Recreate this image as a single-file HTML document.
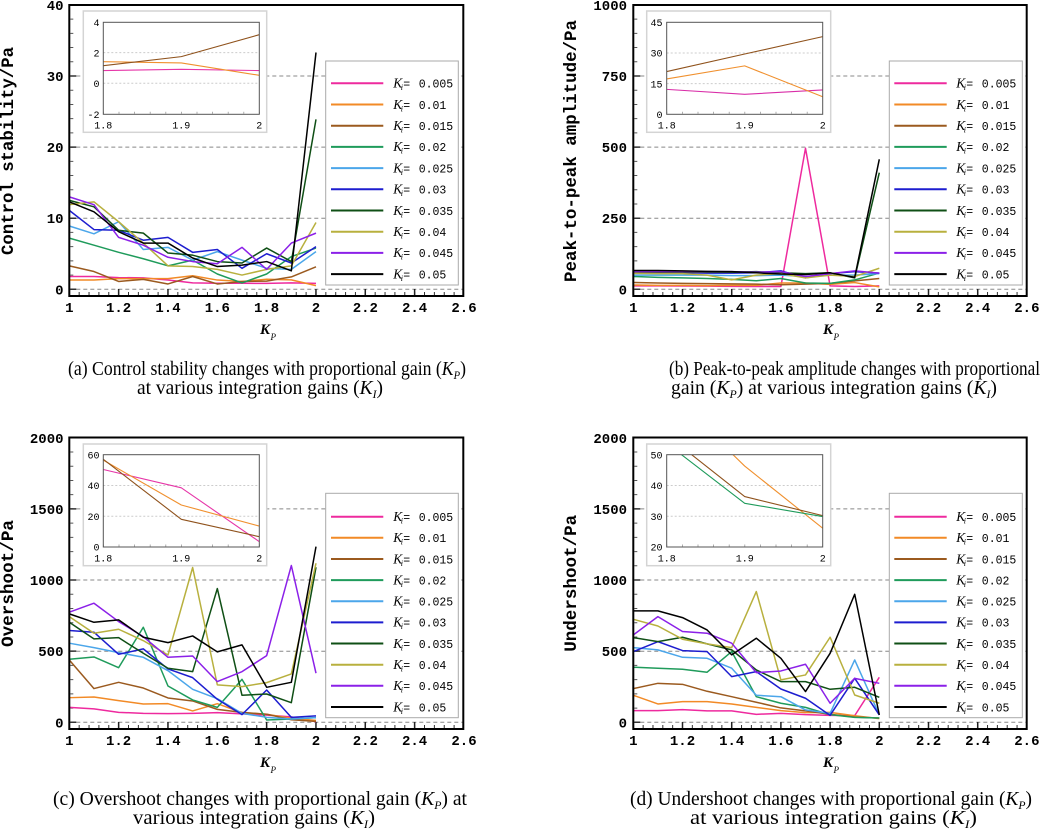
<!DOCTYPE html>
<html><head><meta charset="utf-8">
<style>
html,body{margin:0;padding:0;background:#fff;}
svg{display:block;}
.tk{font-family:"Liberation Mono",monospace;font-size:14px;font-weight:bold;fill:#000;}
.ti{font-family:"Liberation Mono",monospace;font-size:17.3px;font-weight:bold;fill:#000;}
.it{font-family:"Liberation Mono",monospace;font-size:10px;fill:#000;}
.k{font-family:"Liberation Serif",serif;font-style:italic;font-size:13.5px;}
.s{font-family:"Liberation Serif",serif;font-style:italic;font-size:8px;}
.m{font-family:"Liberation Mono",monospace;font-size:11.5px;}
.kp{font-family:"Liberation Serif",serif;font-style:italic;font-weight:bold;font-size:15px;}
.kps{font-family:"Liberation Serif",serif;font-style:italic;font-size:9px;}
.cap{font-family:"Liberation Serif",serif;font-size:20px;fill:#000;}
.ser polyline{fill:none;stroke-width:1.5;stroke-linejoin:round;vector-effect:non-scaling-stroke;}
.ins polyline{fill:none;stroke-width:1.1;stroke-linejoin:round;vector-effect:non-scaling-stroke;}
.grid{stroke:#888;stroke-width:1;stroke-dasharray:4 3;}
.ig{stroke:#ccc;stroke-width:1;stroke-dasharray:2 2;}
</style></head>
<body>
<svg width="1041" height="834" viewBox="0 0 1041 834" xmlns="http://www.w3.org/2000/svg">
<defs>
<clipPath id="cia"><rect x="103.3" y="22.3" width="156" height="92"/></clipPath>
<clipPath id="cib"><rect x="666.7" y="22.3" width="156" height="92"/></clipPath>
<clipPath id="cic"><rect x="103.3" y="454.7" width="156" height="92.3"/></clipPath>
<clipPath id="cid"><rect x="666.7" y="454.7" width="156" height="92.3"/></clipPath>
</defs>

<!-- ================= PANEL A ================= -->
<g>
<line class="grid" x1="69.3" x2="463.3" y1="289.3" y2="289.3"/>
<line class="grid" x1="69.3" x2="463.3" y1="218.2" y2="218.2"/>
<line class="grid" x1="69.3" x2="463.3" y1="147.1" y2="147.1"/>
<line class="grid" x1="69.3" x2="463.3" y1="76" y2="76"/>
<line x1="68.8" y1="293.5" x2="464" y2="293.5" stroke="#333" stroke-width="3" stroke-dasharray="1 8.867"/>
<line x1="68.55" y1="292" x2="464" y2="292" stroke="#222" stroke-width="6" stroke-dasharray="1.5 47.83"/>
<line x1="71.8" y1="289.8" x2="71.8" y2="5" stroke="#555" stroke-width="3" stroke-dasharray="1 13.22"/>
<line x1="73.3" y1="290.05" x2="73.3" y2="5" stroke="#333" stroke-width="6" stroke-dasharray="1.5 69.61"/>
<g class="ser" transform="translate(69.3 289.3) scale(24.67 -7.111)">
<polyline stroke="#ee2a9e" points="0,1.8 1,1.8 2,1.65 3,1.6 4,1.3 5,0.9 6,0.85 7,0.85 8,0.83 9,0.91 10,0.83"/>
<polyline stroke="#f28a26" points="0,1.3 1,1.3 2,1.5 3,1.5 4,1.5 5,1.9 6,1.3 7,1.1 8,1.41 9,1.33 10,0.52"/>
<polyline stroke="#9b5a1f" points="0,3.3 1,2.5 2,1.1 3,1.4 4,0.75 5,1.8 6,0.75 7,1.1 8,1.15 9,1.74 10,3.17"/>
<polyline stroke="#1f9b5b" points="0,7.2 1,6.2 2,5.2 3,4.3 4,3.3 5,4.1 6,2.15 7,0.9 8,2.15 9,4.6 10,5.8"/>
<polyline stroke="#4ba6ea" points="0,8.9 1,7.8 2,9.5 3,5.6 4,5.9 5,4.1 6,5.3 7,4.1 8,2.95 9,2.8 10,5.3"/>
<polyline stroke="#1d1dcf" points="0,11.1 1,8.4 2,8.3 3,6.9 4,7.3 5,5.2 6,5.6 7,2.95 8,5.0 9,3.7 10,6.0"/>
<polyline stroke="#0f4f15" points="0,12.5 1,11.6 2,8.3 3,7.9 4,5.1 5,4.8 6,3.9 7,3.7 8,5.8 9,3.9 10,23.9"/>
<polyline stroke="#b8b03e" points="0,11.9 1,12.3 2,9.5 3,6.5 4,3.3 5,3.2 6,2.8 7,2.0 8,2.8 9,3.3 10,9.4"/>
<polyline stroke="#8b20e8" points="0,13.0 1,11.9 2,7.3 3,6.2 4,4.5 5,3.9 6,3.6 7,5.9 8,2.8 9,6.5 10,7.9"/>
<polyline stroke="#000" points="0,12.3 1,10.9 2,8.1 3,6.5 4,6.5 5,4.4 6,3.2 7,3.4 8,3.9 9,2.6 10,33.3"/>
</g>
<rect x="69.3" y="5" width="394" height="291" fill="none" stroke="#000" stroke-width="2"/>
<g class="tk" text-anchor="end">
<text x="63.5" y="294.3">0</text><text x="63.5" y="223.2">10</text><text x="63.5" y="152.1">20</text><text x="63.5" y="81">30</text><text x="63.5" y="10">40</text>
</g>
<g class="tk" text-anchor="middle">
<text x="69.3" y="312">1</text><text x="118.6" y="312">1.2</text><text x="168" y="312">1.4</text><text x="217.3" y="312">1.6</text><text x="266.6" y="312">1.8</text><text x="316" y="312">2</text><text x="365.3" y="312">2.2</text><text x="414.6" y="312">2.4</text><text x="464" y="312">2.6</text>
</g>
<text class="ti" transform="translate(13 151) rotate(-90)" text-anchor="middle" textLength="208" lengthAdjust="spacingAndGlyphs">Control stability/Pa</text>
<text x="260" y="334" class="kp">K</text><text x="270.5" y="340" class="kps">P</text>
<rect x="83.3" y="11" width="183.4" height="121.3" fill="#fff" stroke="#d4d4d4" stroke-width="1.5"/>
<line class="ig" x1="103.3" x2="259.3" y1="52.6" y2="52.6"/>
<line class="ig" x1="103.3" x2="259.3" y1="83.3" y2="83.3"/>
<line x1="103" y1="112.8" x2="260" y2="112.8" stroke="#999" stroke-width="2" stroke-dasharray="0.8 14.8"/>
<g clip-path="url(#cia)"><g class="ins" transform="translate(103.3 83.3) scale(78 -15.33)">
<polyline stroke="#e636a8" points="0,0.83 1,0.91 2,0.83"/>
<polyline stroke="#f0902e" points="0,1.41 1,1.33 2,0.52"/>
<polyline stroke="#8f521c" points="0,1.15 1,1.74 2,3.17"/>
</g></g>
<rect x="103.3" y="22.3" width="156" height="92" fill="none" stroke="#555" stroke-width="1"/>
<g class="it" text-anchor="end">
<text x="99.5" y="26">4</text><text x="99.5" y="56.3">2</text><text x="99.5" y="87">0</text><text x="99.5" y="118">-2</text>
</g>
<g class="it" text-anchor="middle">
<text x="103.3" y="128.5">1.8</text><text x="181.3" y="128.5">1.9</text><text x="259.3" y="128.5">2</text>
</g>
<g transform="translate(325.7 61)">
<rect x="0" y="0" width="132.6" height="224" fill="#fff" stroke="#aaa" stroke-width="1"/>
<line x1="5.3" x2="57.6" y1="22.3" y2="22.3" stroke="#ee2a9e" stroke-width="2"/>
<line x1="5.3" x2="57.6" y1="43.5" y2="43.5" stroke="#f28a26" stroke-width="2"/>
<line x1="5.3" x2="57.6" y1="64.7" y2="64.7" stroke="#9b5a1f" stroke-width="2"/>
<line x1="5.3" x2="57.6" y1="85.9" y2="85.9" stroke="#1f9b5b" stroke-width="2"/>
<line x1="5.3" x2="57.6" y1="107.1" y2="107.1" stroke="#4ba6ea" stroke-width="2"/>
<line x1="5.3" x2="57.6" y1="128.3" y2="128.3" stroke="#1d1dcf" stroke-width="2"/>
<line x1="5.3" x2="57.6" y1="149.5" y2="149.5" stroke="#0f4f15" stroke-width="2"/>
<line x1="5.3" x2="57.6" y1="170.7" y2="170.7" stroke="#b8b03e" stroke-width="2"/>
<line x1="5.3" x2="57.6" y1="191.9" y2="191.9" stroke="#8b20e8" stroke-width="2"/>
<line x1="5.3" x2="57.6" y1="213.1" y2="213.1" stroke="#000" stroke-width="2"/>
<text y="26.6"><tspan class="k" x="67.5">K</tspan><tspan class="s" x="75" dy="2.5">i</tspan><tspan class="m" x="77.5" dy="-2.5">=</tspan><tspan class="m" x="93">0.005</tspan></text>
<text y="47.8"><tspan class="k" x="67.5">K</tspan><tspan class="s" x="75" dy="2.5">i</tspan><tspan class="m" x="77.5" dy="-2.5">=</tspan><tspan class="m" x="93">0.01</tspan></text>
<text y="69"><tspan class="k" x="67.5">K</tspan><tspan class="s" x="75" dy="2.5">i</tspan><tspan class="m" x="77.5" dy="-2.5">=</tspan><tspan class="m" x="93">0.015</tspan></text>
<text y="90.2"><tspan class="k" x="67.5">K</tspan><tspan class="s" x="75" dy="2.5">i</tspan><tspan class="m" x="77.5" dy="-2.5">=</tspan><tspan class="m" x="93">0.02</tspan></text>
<text y="111.4"><tspan class="k" x="67.5">K</tspan><tspan class="s" x="75" dy="2.5">i</tspan><tspan class="m" x="77.5" dy="-2.5">=</tspan><tspan class="m" x="93">0.025</tspan></text>
<text y="132.6"><tspan class="k" x="67.5">K</tspan><tspan class="s" x="75" dy="2.5">i</tspan><tspan class="m" x="77.5" dy="-2.5">=</tspan><tspan class="m" x="93">0.03</tspan></text>
<text y="153.8"><tspan class="k" x="67.5">K</tspan><tspan class="s" x="75" dy="2.5">i</tspan><tspan class="m" x="77.5" dy="-2.5">=</tspan><tspan class="m" x="93">0.035</tspan></text>
<text y="175"><tspan class="k" x="67.5">K</tspan><tspan class="s" x="75" dy="2.5">i</tspan><tspan class="m" x="77.5" dy="-2.5">=</tspan><tspan class="m" x="93">0.04</tspan></text>
<text y="196.2"><tspan class="k" x="67.5">K</tspan><tspan class="s" x="75" dy="2.5">i</tspan><tspan class="m" x="77.5" dy="-2.5">=</tspan><tspan class="m" x="93">0.045</tspan></text>
<text y="217.4"><tspan class="k" x="67.5">K</tspan><tspan class="s" x="75" dy="2.5">i</tspan><tspan class="m" x="77.5" dy="-2.5">=</tspan><tspan class="m" x="93">0.05</tspan></text>
</g>
</g>

<!-- ================= PANEL B ================= -->
<g>
<line class="grid" x1="633.3" x2="1026.7" y1="289.3" y2="289.3"/>
<line class="grid" x1="633.3" x2="1026.7" y1="218.2" y2="218.2"/>
<line class="grid" x1="633.3" x2="1026.7" y1="147.1" y2="147.1"/>
<line class="grid" x1="633.3" x2="1026.7" y1="76" y2="76"/>
<line x1="632.8" y1="293.5" x2="1027" y2="293.5" stroke="#333" stroke-width="3" stroke-dasharray="1 8.84"/>
<line x1="632.55" y1="292" x2="1027" y2="292" stroke="#222" stroke-width="6" stroke-dasharray="1.5 47.7"/>
<line x1="635.8" y1="289.8" x2="635.8" y2="5" stroke="#555" stroke-width="3" stroke-dasharray="1 13.22"/>
<line x1="637.3" y1="290.05" x2="637.3" y2="5" stroke="#333" stroke-width="6" stroke-dasharray="1.5 69.6"/>
<g class="ser" transform="translate(633.3 289.3) scale(24.6 -0.2844)">
<polyline stroke="#ee2a9e" points="0,12 1,12 2,11.5 3,11 4,10.5 5,10 6,10 7,496 8,12.2 9,9.8 10,11.9"/>
<polyline stroke="#f28a26" points="0,15 1,14 2,14 3,13 4,14 5,14 6,22 7,22 8,17.3 9,23.7 10,8.6"/>
<polyline stroke="#9b5a1f" points="0,24 1,22 2,21 3,20 4,19 5,18 6,16 7,18 8,20.9 9,29.5 10,38"/>
<polyline stroke="#1f9b5b" points="0,45 1,42 2,40 3,38 4,35 5,30 6,38 7,22 8,21 9,33 10,57"/>
<polyline stroke="#4ba6ea" points="0,50 1,50 2,50 3,50 4,48 5,48 6,50 7,45 8,50 9,50 10,55"/>
<polyline stroke="#1d1dcf" points="0,58 1,58 2,58 3,57 4,57 5,58 6,65 7,40 8,55 9,62 10,57"/>
<polyline stroke="#0f4f15" points="0,58 1,60 2,60 3,60 4,60 5,62 6,58 7,55 8,58 9,40 10,410"/>
<polyline stroke="#b8b03e" points="0,56 1,55 2,55 3,50 4,33 5,50 6,55 7,40 8,50 9,45 10,74"/>
<polyline stroke="#8b20e8" points="0,62 1,62 2,62 3,62 4,62 5,60 6,62 7,45 8,55 9,65 10,57"/>
<polyline stroke="#000" points="0,66 1,66 2,65 3,63 4,62 5,58 6,54 7,52 8,58 9,42 10,457"/>
</g>
<rect x="633.3" y="5" width="393.4" height="291" fill="none" stroke="#000" stroke-width="2"/>
<g class="tk" text-anchor="end">
<text x="627" y="294.3">0</text><text x="627" y="223.2">250</text><text x="627" y="152.1">500</text><text x="627" y="81">750</text><text x="627" y="10">1000</text>
</g>
<g class="tk" text-anchor="middle">
<text x="633.3" y="312">1</text><text x="682.5" y="312">1.2</text><text x="731.7" y="312">1.4</text><text x="780.9" y="312">1.6</text><text x="830.1" y="312">1.8</text><text x="879.3" y="312">2</text><text x="928.5" y="312">2.2</text><text x="977.7" y="312">2.4</text><text x="1026.9" y="312">2.6</text>
</g>
<text class="ti" transform="translate(576 151) rotate(-90)" text-anchor="middle" textLength="262" lengthAdjust="spacingAndGlyphs">Peak-to-peak amplitude/Pa</text>
<text x="823" y="334" class="kp">K</text><text x="833.5" y="340" class="kps">P</text>
<rect x="646.7" y="11" width="184" height="121.3" fill="#fff" stroke="#d4d4d4" stroke-width="1.5"/>
<line class="ig" x1="666.7" x2="822.7" y1="53" y2="53"/>
<line class="ig" x1="666.7" x2="822.7" y1="83.6" y2="83.6"/>
<line x1="666.4" y1="112.8" x2="823" y2="112.8" stroke="#999" stroke-width="2" stroke-dasharray="0.8 14.8"/>
<g clip-path="url(#cib)"><g class="ins" transform="translate(666.7 114.3) scale(78 -2.044)">
<polyline stroke="#d92ea8" points="0,12.2 1,9.8 2,11.9"/>
<polyline stroke="#f0902e" points="0,17.3 1,23.7 2,8.6"/>
<polyline stroke="#8f521c" points="0,20.9 1,29.5 2,38"/>
</g></g>
<rect x="666.7" y="22.3" width="156" height="92" fill="none" stroke="#555" stroke-width="1"/>
<g class="it" text-anchor="end">
<text x="662.5" y="26">45</text><text x="662.5" y="56.7">30</text><text x="662.5" y="87.3">15</text><text x="662.5" y="118">0</text>
</g>
<g class="it" text-anchor="middle">
<text x="666.7" y="128.5">1.8</text><text x="744.7" y="128.5">1.9</text><text x="822.7" y="128.5">2</text>
</g>
<g transform="translate(889.3 61)">
<rect x="0" y="0" width="133" height="224" fill="#fff" stroke="#aaa" stroke-width="1"/>
<line x1="5" x2="57.4" y1="22.3" y2="22.3" stroke="#ee2a9e" stroke-width="2"/>
<line x1="5" x2="57.4" y1="43.5" y2="43.5" stroke="#f28a26" stroke-width="2"/>
<line x1="5" x2="57.4" y1="64.7" y2="64.7" stroke="#9b5a1f" stroke-width="2"/>
<line x1="5" x2="57.4" y1="85.9" y2="85.9" stroke="#1f9b5b" stroke-width="2"/>
<line x1="5" x2="57.4" y1="107.1" y2="107.1" stroke="#4ba6ea" stroke-width="2"/>
<line x1="5" x2="57.4" y1="128.3" y2="128.3" stroke="#1d1dcf" stroke-width="2"/>
<line x1="5" x2="57.4" y1="149.5" y2="149.5" stroke="#0f4f15" stroke-width="2"/>
<line x1="5" x2="57.4" y1="170.7" y2="170.7" stroke="#b8b03e" stroke-width="2"/>
<line x1="5" x2="57.4" y1="191.9" y2="191.9" stroke="#8b20e8" stroke-width="2"/>
<line x1="5" x2="57.4" y1="213.1" y2="213.1" stroke="#000" stroke-width="2"/>
<text y="26.6"><tspan class="k" x="67">K</tspan><tspan class="s" x="74.5" dy="2.5">i</tspan><tspan class="m" x="77" dy="-2.5">=</tspan><tspan class="m" x="92.5">0.005</tspan></text>
<text y="47.8"><tspan class="k" x="67">K</tspan><tspan class="s" x="74.5" dy="2.5">i</tspan><tspan class="m" x="77" dy="-2.5">=</tspan><tspan class="m" x="92.5">0.01</tspan></text>
<text y="69"><tspan class="k" x="67">K</tspan><tspan class="s" x="74.5" dy="2.5">i</tspan><tspan class="m" x="77" dy="-2.5">=</tspan><tspan class="m" x="92.5">0.015</tspan></text>
<text y="90.2"><tspan class="k" x="67">K</tspan><tspan class="s" x="74.5" dy="2.5">i</tspan><tspan class="m" x="77" dy="-2.5">=</tspan><tspan class="m" x="92.5">0.02</tspan></text>
<text y="111.4"><tspan class="k" x="67">K</tspan><tspan class="s" x="74.5" dy="2.5">i</tspan><tspan class="m" x="77" dy="-2.5">=</tspan><tspan class="m" x="92.5">0.025</tspan></text>
<text y="132.6"><tspan class="k" x="67">K</tspan><tspan class="s" x="74.5" dy="2.5">i</tspan><tspan class="m" x="77" dy="-2.5">=</tspan><tspan class="m" x="92.5">0.03</tspan></text>
<text y="153.8"><tspan class="k" x="67">K</tspan><tspan class="s" x="74.5" dy="2.5">i</tspan><tspan class="m" x="77" dy="-2.5">=</tspan><tspan class="m" x="92.5">0.035</tspan></text>
<text y="175"><tspan class="k" x="67">K</tspan><tspan class="s" x="74.5" dy="2.5">i</tspan><tspan class="m" x="77" dy="-2.5">=</tspan><tspan class="m" x="92.5">0.04</tspan></text>
<text y="196.2"><tspan class="k" x="67">K</tspan><tspan class="s" x="74.5" dy="2.5">i</tspan><tspan class="m" x="77" dy="-2.5">=</tspan><tspan class="m" x="92.5">0.045</tspan></text>
<text y="217.4"><tspan class="k" x="67">K</tspan><tspan class="s" x="74.5" dy="2.5">i</tspan><tspan class="m" x="77" dy="-2.5">=</tspan><tspan class="m" x="92.5">0.05</tspan></text>
</g>
</g>

<!-- ================= PANEL C ================= -->
<g>
<line class="grid" x1="69.3" x2="463.3" y1="722.3" y2="722.3"/>
<line class="grid" x1="69.3" x2="463.3" y1="651.2" y2="651.2"/>
<line class="grid" x1="69.3" x2="463.3" y1="580" y2="580"/>
<line class="grid" x1="69.3" x2="463.3" y1="508.9" y2="508.9"/>
<line x1="68.8" y1="726.5" x2="464" y2="726.5" stroke="#333" stroke-width="3" stroke-dasharray="1 8.867"/>
<line x1="68.55" y1="725" x2="464" y2="725" stroke="#222" stroke-width="6" stroke-dasharray="1.5 47.83"/>
<line x1="71.8" y1="722.8" x2="71.8" y2="437.5" stroke="#555" stroke-width="3" stroke-dasharray="1 13.227"/>
<line x1="73.3" y1="723.05" x2="73.3" y2="437.5" stroke="#333" stroke-width="6" stroke-dasharray="1.5 69.63"/>
<g class="ser" transform="translate(69.3 722.3) scale(24.67 -0.14227)">
<polyline stroke="#ee2a9e" points="0,105 1,94 2,70 3,63 4,61 5,63 6,68 7,59 8,50.4 9,38.5 10,3.5"/>
<polyline stroke="#f28a26" points="0,173 1,178 2,152 3,129 4,131 5,80 6,131 7,68 8,56.5 9,27.3 10,13.6"/>
<polyline stroke="#9b5a1f" points="0,438 1,237 2,281 3,241 4,171 5,150 6,91 7,70 8,57 9,18 10,6.7"/>
<polyline stroke="#1f9b5b" points="0,443 1,459 2,384 3,668 4,255 5,157 6,105 7,302 8,16 9,23 10,33"/>
<polyline stroke="#4ba6ea" points="0,556 1,525 2,490 3,457 4,363 5,232 6,166 7,63 8,35 9,23 10,33"/>
<polyline stroke="#1d1dcf" points="0,645 1,633 2,478 3,516 4,375 5,314 6,162 7,54 8,227 9,35 10,45"/>
<polyline stroke="#0f4f15" points="0,703 1,586 2,595 3,485 4,380 5,356 6,940 7,190 8,199 9,138 10,1090"/>
<polyline stroke="#b8b03e" points="0,743 1,626 2,654 3,574 4,473 5,1088 6,263 7,251 8,279 9,340 10,1118"/>
<polyline stroke="#8b20e8" points="0,774 1,837 2,708 3,602 4,457 5,466 6,286 7,356 8,469 9,1102 10,345"/>
<polyline stroke="#000" points="0,762 1,703 2,720 3,598 4,560 5,607 6,495 7,544 8,246 9,281 10,1235"/>
</g>
<rect x="69.3" y="437.5" width="394" height="291.5" fill="none" stroke="#000" stroke-width="2"/>
<g class="tk" text-anchor="end">
<text x="63.5" y="727.3">0</text><text x="63.5" y="656.2">500</text><text x="63.5" y="585">1000</text><text x="63.5" y="513.9">1500</text><text x="63.5" y="442.8">2000</text>
</g>
<g class="tk" text-anchor="middle">
<text x="69.3" y="745">1</text><text x="118.6" y="745">1.2</text><text x="168" y="745">1.4</text><text x="217.3" y="745">1.6</text><text x="266.6" y="745">1.8</text><text x="316" y="745">2</text><text x="365.3" y="745">2.2</text><text x="414.6" y="745">2.4</text><text x="464" y="745">2.6</text>
</g>
<text class="ti" transform="translate(13 583.5) rotate(-90)" text-anchor="middle" textLength="127" lengthAdjust="spacingAndGlyphs">Overshoot/Pa</text>
<text x="260" y="767" class="kp">K</text><text x="270.5" y="773" class="kps">P</text>
<rect x="83.3" y="444" width="183.4" height="121.7" fill="#fff" stroke="#d4d4d4" stroke-width="1.5"/>
<line class="ig" x1="103.3" x2="259.3" y1="485.5" y2="485.5"/>
<line class="ig" x1="103.3" x2="259.3" y1="516.2" y2="516.2"/>
<line x1="103" y1="545.5" x2="260" y2="545.5" stroke="#999" stroke-width="2" stroke-dasharray="0.8 14.8"/>
<g clip-path="url(#cic)"><g class="ins" transform="translate(103.3 547) scale(78 -1.538)">
<polyline stroke="#e636a8" points="0,50.4 1,38.5 2,3.5"/>
<polyline stroke="#f0902e" points="0,56.5 1,27.3 2,13.6"/>
<polyline stroke="#8f521c" points="0,57 1,18 2,6.7"/>
</g></g>
<rect x="103.3" y="454.7" width="156" height="92.3" fill="none" stroke="#555" stroke-width="1"/>
<g class="it" text-anchor="end">
<text x="99.5" y="458.4">60</text><text x="99.5" y="489.2">40</text><text x="99.5" y="519.9">20</text><text x="99.5" y="550.7">0</text>
</g>
<g class="it" text-anchor="middle">
<text x="103.3" y="561.5">1.8</text><text x="181.3" y="561.5">1.9</text><text x="259.3" y="561.5">2</text>
</g>
<g transform="translate(325.7 493.3)">
<rect x="0" y="0" width="132.6" height="224.4" fill="#fff" stroke="#aaa" stroke-width="1"/>
<line x1="5.3" x2="57.6" y1="23.4" y2="23.4" stroke="#ee2a9e" stroke-width="2"/>
<line x1="5.3" x2="57.6" y1="44.5" y2="44.5" stroke="#f28a26" stroke-width="2"/>
<line x1="5.3" x2="57.6" y1="65.7" y2="65.7" stroke="#9b5a1f" stroke-width="2"/>
<line x1="5.3" x2="57.6" y1="86.8" y2="86.8" stroke="#1f9b5b" stroke-width="2"/>
<line x1="5.3" x2="57.6" y1="108" y2="108" stroke="#4ba6ea" stroke-width="2"/>
<line x1="5.3" x2="57.6" y1="129.1" y2="129.1" stroke="#1d1dcf" stroke-width="2"/>
<line x1="5.3" x2="57.6" y1="150.2" y2="150.2" stroke="#0f4f15" stroke-width="2"/>
<line x1="5.3" x2="57.6" y1="171.4" y2="171.4" stroke="#b8b03e" stroke-width="2"/>
<line x1="5.3" x2="57.6" y1="192.5" y2="192.5" stroke="#8b20e8" stroke-width="2"/>
<line x1="5.3" x2="57.6" y1="213.7" y2="213.7" stroke="#000" stroke-width="2"/>
<text y="27.7"><tspan class="k" x="67.5">K</tspan><tspan class="s" x="75" dy="2.5">i</tspan><tspan class="m" x="77.5" dy="-2.5">=</tspan><tspan class="m" x="93">0.005</tspan></text>
<text y="48.8"><tspan class="k" x="67.5">K</tspan><tspan class="s" x="75" dy="2.5">i</tspan><tspan class="m" x="77.5" dy="-2.5">=</tspan><tspan class="m" x="93">0.01</tspan></text>
<text y="70"><tspan class="k" x="67.5">K</tspan><tspan class="s" x="75" dy="2.5">i</tspan><tspan class="m" x="77.5" dy="-2.5">=</tspan><tspan class="m" x="93">0.015</tspan></text>
<text y="91.1"><tspan class="k" x="67.5">K</tspan><tspan class="s" x="75" dy="2.5">i</tspan><tspan class="m" x="77.5" dy="-2.5">=</tspan><tspan class="m" x="93">0.02</tspan></text>
<text y="112.3"><tspan class="k" x="67.5">K</tspan><tspan class="s" x="75" dy="2.5">i</tspan><tspan class="m" x="77.5" dy="-2.5">=</tspan><tspan class="m" x="93">0.025</tspan></text>
<text y="133.4"><tspan class="k" x="67.5">K</tspan><tspan class="s" x="75" dy="2.5">i</tspan><tspan class="m" x="77.5" dy="-2.5">=</tspan><tspan class="m" x="93">0.03</tspan></text>
<text y="154.5"><tspan class="k" x="67.5">K</tspan><tspan class="s" x="75" dy="2.5">i</tspan><tspan class="m" x="77.5" dy="-2.5">=</tspan><tspan class="m" x="93">0.035</tspan></text>
<text y="175.7"><tspan class="k" x="67.5">K</tspan><tspan class="s" x="75" dy="2.5">i</tspan><tspan class="m" x="77.5" dy="-2.5">=</tspan><tspan class="m" x="93">0.04</tspan></text>
<text y="196.8"><tspan class="k" x="67.5">K</tspan><tspan class="s" x="75" dy="2.5">i</tspan><tspan class="m" x="77.5" dy="-2.5">=</tspan><tspan class="m" x="93">0.045</tspan></text>
<text y="218"><tspan class="k" x="67.5">K</tspan><tspan class="s" x="75" dy="2.5">i</tspan><tspan class="m" x="77.5" dy="-2.5">=</tspan><tspan class="m" x="93">0.05</tspan></text>
</g>
</g>

<!-- ================= PANEL D ================= -->
<g>
<line class="grid" x1="633.3" x2="1026.7" y1="722.3" y2="722.3"/>
<line class="grid" x1="633.3" x2="1026.7" y1="651.2" y2="651.2"/>
<line class="grid" x1="633.3" x2="1026.7" y1="580" y2="580"/>
<line class="grid" x1="633.3" x2="1026.7" y1="508.9" y2="508.9"/>
<line x1="632.8" y1="726.5" x2="1027" y2="726.5" stroke="#333" stroke-width="3" stroke-dasharray="1 8.84"/>
<line x1="632.55" y1="725" x2="1027" y2="725" stroke="#222" stroke-width="6" stroke-dasharray="1.5 47.7"/>
<line x1="635.8" y1="722.8" x2="635.8" y2="437.5" stroke="#555" stroke-width="3" stroke-dasharray="1 13.227"/>
<line x1="637.3" y1="723.05" x2="637.3" y2="437.5" stroke="#333" stroke-width="6" stroke-dasharray="1.5 69.63"/>
<g class="ser" transform="translate(633.3 722.3) scale(24.6 -0.14227)">
<polyline stroke="#ee2a9e" points="0,82 1,82 2,89 3,80 4,80 5,56 6,63 7,54 8,49 9,47 10,316"/>
<polyline stroke="#f28a26" points="0,190 1,129 2,145 3,145 4,129 5,105 6,82 7,68 8,70 9,46.3 10,26.1"/>
<polyline stroke="#9b5a1f" points="0,237 1,274 2,267 3,218 4,180 5,141 6,101 7,80 8,56.4 9,36.4 10,30.2"/>
<polyline stroke="#1f9b5b" points="0,387 1,380 2,373 3,352 4,497 5,180 6,134 7,105 8,53.7 9,34.2 10,29.9"/>
<polyline stroke="#4ba6ea" points="0,525 1,509 2,457 3,450 4,380 5,190 6,180 7,87 8,63 9,438 10,52"/>
<polyline stroke="#1d1dcf" points="0,497 1,567 2,504 3,497 4,321 5,356 6,234 7,169 8,49 9,309 10,52"/>
<polyline stroke="#0f4f15" points="0,595 1,567 2,598 3,551 4,509 5,368 6,286 7,286 8,232 9,246 10,176"/>
<polyline stroke="#b8b03e" points="0,724 1,677 2,584 3,551 4,525 5,919 6,298 7,333 8,598 9,192 10,134"/>
<polyline stroke="#8b20e8" points="0,614 1,743 2,638 3,626 4,556 5,349 6,361 7,408 8,134 9,309 10,274"/>
<polyline stroke="#000" points="0,783 1,783 2,736 3,649 4,474 5,591 6,450 7,216 8,485 9,900 10,52"/>
</g>
<rect x="633.3" y="437.5" width="393.4" height="291.5" fill="none" stroke="#000" stroke-width="2"/>
<g class="tk" text-anchor="end">
<text x="627" y="727.3">0</text><text x="627" y="656.2">500</text><text x="627" y="585">1000</text><text x="627" y="513.9">1500</text><text x="627" y="442.8">2000</text>
</g>
<g class="tk" text-anchor="middle">
<text x="633.3" y="745">1</text><text x="682.5" y="745">1.2</text><text x="731.7" y="745">1.4</text><text x="780.9" y="745">1.6</text><text x="830.1" y="745">1.8</text><text x="879.3" y="745">2</text><text x="928.5" y="745">2.2</text><text x="977.7" y="745">2.4</text><text x="1026.9" y="745">2.6</text>
</g>
<text class="ti" transform="translate(576 583.3) rotate(-90)" text-anchor="middle" textLength="137" lengthAdjust="spacingAndGlyphs">Undershoot/Pa</text>
<text x="823" y="767" class="kp">K</text><text x="833.5" y="773" class="kps">P</text>
<rect x="646.7" y="444" width="184" height="121.7" fill="#fff" stroke="#d4d4d4" stroke-width="1.5"/>
<line class="ig" x1="666.7" x2="822.7" y1="485.5" y2="485.5"/>
<line class="ig" x1="666.7" x2="822.7" y1="516.2" y2="516.2"/>
<line x1="666.4" y1="545.5" x2="823" y2="545.5" stroke="#999" stroke-width="2" stroke-dasharray="0.8 14.8"/>
<g clip-path="url(#cid)"><g class="ins" transform="translate(666.7 608.54) scale(78 -3.077)">
<polyline stroke="#f0902e" points="0,71 1,46.3 2,26.1"/>
<polyline stroke="#8f521c" points="0,56.4 1,36.4 2,30.2"/>
<polyline stroke="#1f9b5b" points="0,53.7 1,34.2 2,29.9"/>
</g></g>
<rect x="666.7" y="454.7" width="156" height="92.3" fill="none" stroke="#555" stroke-width="1"/>
<g class="it" text-anchor="end">
<text x="662.5" y="458.4">50</text><text x="662.5" y="489.2">40</text><text x="662.5" y="519.9">30</text><text x="662.5" y="550.7">20</text>
</g>
<g class="it" text-anchor="middle">
<text x="666.7" y="561.5">1.8</text><text x="744.7" y="561.5">1.9</text><text x="822.7" y="561.5">2</text>
</g>
<g transform="translate(889.3 493.3)">
<rect x="0" y="0" width="133" height="224.4" fill="#fff" stroke="#aaa" stroke-width="1"/>
<line x1="5" x2="57.4" y1="23.4" y2="23.4" stroke="#ee2a9e" stroke-width="2"/>
<line x1="5" x2="57.4" y1="44.5" y2="44.5" stroke="#f28a26" stroke-width="2"/>
<line x1="5" x2="57.4" y1="65.7" y2="65.7" stroke="#9b5a1f" stroke-width="2"/>
<line x1="5" x2="57.4" y1="86.8" y2="86.8" stroke="#1f9b5b" stroke-width="2"/>
<line x1="5" x2="57.4" y1="108" y2="108" stroke="#4ba6ea" stroke-width="2"/>
<line x1="5" x2="57.4" y1="129.1" y2="129.1" stroke="#1d1dcf" stroke-width="2"/>
<line x1="5" x2="57.4" y1="150.2" y2="150.2" stroke="#0f4f15" stroke-width="2"/>
<line x1="5" x2="57.4" y1="171.4" y2="171.4" stroke="#b8b03e" stroke-width="2"/>
<line x1="5" x2="57.4" y1="192.5" y2="192.5" stroke="#8b20e8" stroke-width="2"/>
<line x1="5" x2="57.4" y1="213.7" y2="213.7" stroke="#000" stroke-width="2"/>
<text y="27.7"><tspan class="k" x="67">K</tspan><tspan class="s" x="74.5" dy="2.5">i</tspan><tspan class="m" x="77" dy="-2.5">=</tspan><tspan class="m" x="92.5">0.005</tspan></text>
<text y="48.8"><tspan class="k" x="67">K</tspan><tspan class="s" x="74.5" dy="2.5">i</tspan><tspan class="m" x="77" dy="-2.5">=</tspan><tspan class="m" x="92.5">0.01</tspan></text>
<text y="70"><tspan class="k" x="67">K</tspan><tspan class="s" x="74.5" dy="2.5">i</tspan><tspan class="m" x="77" dy="-2.5">=</tspan><tspan class="m" x="92.5">0.015</tspan></text>
<text y="91.1"><tspan class="k" x="67">K</tspan><tspan class="s" x="74.5" dy="2.5">i</tspan><tspan class="m" x="77" dy="-2.5">=</tspan><tspan class="m" x="92.5">0.02</tspan></text>
<text y="112.3"><tspan class="k" x="67">K</tspan><tspan class="s" x="74.5" dy="2.5">i</tspan><tspan class="m" x="77" dy="-2.5">=</tspan><tspan class="m" x="92.5">0.025</tspan></text>
<text y="133.4"><tspan class="k" x="67">K</tspan><tspan class="s" x="74.5" dy="2.5">i</tspan><tspan class="m" x="77" dy="-2.5">=</tspan><tspan class="m" x="92.5">0.03</tspan></text>
<text y="154.5"><tspan class="k" x="67">K</tspan><tspan class="s" x="74.5" dy="2.5">i</tspan><tspan class="m" x="77" dy="-2.5">=</tspan><tspan class="m" x="92.5">0.035</tspan></text>
<text y="175.7"><tspan class="k" x="67">K</tspan><tspan class="s" x="74.5" dy="2.5">i</tspan><tspan class="m" x="77" dy="-2.5">=</tspan><tspan class="m" x="92.5">0.04</tspan></text>
<text y="196.8"><tspan class="k" x="67">K</tspan><tspan class="s" x="74.5" dy="2.5">i</tspan><tspan class="m" x="77" dy="-2.5">=</tspan><tspan class="m" x="92.5">0.045</tspan></text>
<text y="218"><tspan class="k" x="67">K</tspan><tspan class="s" x="74.5" dy="2.5">i</tspan><tspan class="m" x="77" dy="-2.5">=</tspan><tspan class="m" x="92.5">0.05</tspan></text>
</g>
</g>

<!-- ================= CAPTIONS ================= -->
<text class="cap" x="68" y="375" textLength="398" lengthAdjust="spacingAndGlyphs">(a) Control stability changes with proportional gain (<tspan font-style="italic">K</tspan><tspan font-style="italic" font-size="12" dy="4">P</tspan><tspan dy="-4">)</tspan></text>
<text class="cap" x="137" y="394" textLength="246" lengthAdjust="spacingAndGlyphs">at various integration gains (<tspan font-style="italic">K</tspan><tspan font-style="italic" font-size="12" dy="4">I</tspan><tspan dy="-4">)</tspan></text>
<text class="cap" x="669" y="375" textLength="371" lengthAdjust="spacingAndGlyphs">(b) Peak-to-peak amplitude changes with proportional</text>
<text class="cap" x="671" y="394" textLength="326" lengthAdjust="spacingAndGlyphs">gain (<tspan font-style="italic">K</tspan><tspan font-style="italic" font-size="12" dy="4">P</tspan><tspan dy="-4">) at various integration gains (</tspan><tspan font-style="italic">K</tspan><tspan font-style="italic" font-size="12" dy="4">I</tspan><tspan dy="-4">)</tspan></text>
<text class="cap" x="53" y="805" textLength="414" lengthAdjust="spacingAndGlyphs">(c) Overshoot changes with proportional gain (<tspan font-style="italic">K</tspan><tspan font-style="italic" font-size="12" dy="4">P</tspan><tspan dy="-4">) at</tspan></text>
<text class="cap" x="133" y="824" textLength="242" lengthAdjust="spacingAndGlyphs">various integration gains (<tspan font-style="italic">K</tspan><tspan font-style="italic" font-size="12" dy="4">I</tspan><tspan dy="-4">)</tspan></text>
<text class="cap" x="630" y="805" textLength="402" lengthAdjust="spacingAndGlyphs">(d) Undershoot changes with proportional gain (<tspan font-style="italic">K</tspan><tspan font-style="italic" font-size="12" dy="4">P</tspan><tspan dy="-4">)</tspan></text>
<text class="cap" x="690" y="824" textLength="287" lengthAdjust="spacingAndGlyphs">at various integration gains (<tspan font-style="italic">K</tspan><tspan font-style="italic" font-size="12" dy="4">I</tspan><tspan dy="-4">)</tspan></text>
</svg>
</body></html>
